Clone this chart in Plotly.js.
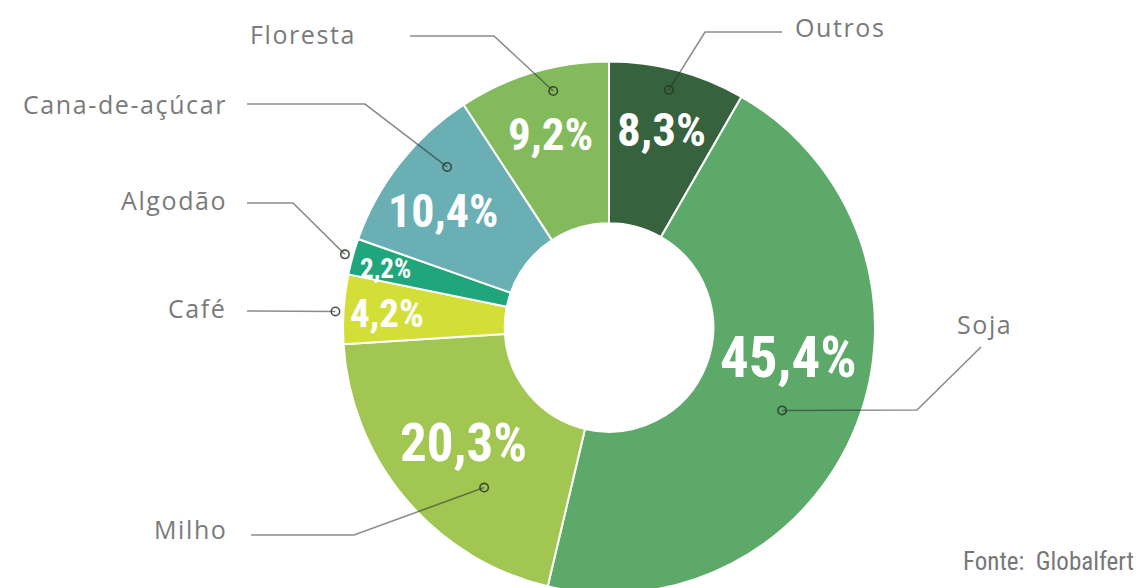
<!DOCTYPE html>
<html>
<head>
<meta charset="utf-8">
<script src="https://cdn.plot.ly/plotly-3.0.1.min.js"></script>
<style>
html,body{margin:0;padding:0;overflow:hidden;background:#fff;width:1140px;height:588px;}
#chart{width:1140px;height:600px;}
</style>
</head>
<body>
<div id="chart"></div>
<script>
// ---- data ----
const categories = ["Outros", "Soja", "Milho", "Café", "Algodão", "Cana-de-açúcar", "Floresta"];
const shares = [8.3, 45.4, 20.3, 4.2, 2.2, 10.4, 9.2];
const sliceColors = ["#36623e", "#5ca96a", "#a1c651", "#d3de36", "#1fa67b", "#6aafb3", "#83bb5c"];
const source = "Fonte:  Globalfert";

// ---- layout / style config (pixels) ----
const W = 1140, H = 600;
const CX = 609, CY = 327.5, R = 266, HOLE = 0.392;
// percentage text: radius, angle offset (deg), font size
const pctStyle = {
  "Outros": {r: 205, dA: 0, size: 47},
  "Soja": {r: 182, dA: -12, size: 57},
  "Milho": {r: 186, dA: 1.6, size: 53},
  "Café": {r: 222, dA: -0.6, size: 39},
  "Algodão": {r: 231, dA: -0.7, size: 27},
  "Cana-de-açúcar": {r: 203, dA: -3, size: 46},
  "Floresta": {r: 202, dA: -0.4, size: 45}
};
// leader lines: dot radius, dot angle offset, polyline points, label anchor
const leader = {
  "Outros": {r: 245, dA: -0.8, pts: [[782, 32], [705, 32]], lx: 793, ly: 27, side: "left"},
  "Soja": {r: 192, dA: 4, pts: [[981, 347], [917, 410]], lx: 955, ly: 324, side: "left"},
  "Milho": {r: 203, dA: -11.9, pts: [[251, 535], [354, 535]], lx: 229, ly: 529, side: "right"},
  "Café": {r: 274, dA: -0.6, pts: [[247, 311]], lx: 229, ly: 308, side: "right"},
  "Algodão": {r: 274, dA: 0, pts: [[247, 203], [293, 203]], lx: 229, ly: 200, side: "right"},
  "Cana-de-açúcar": {r: 228, dA: 6.6, pts: [[247, 104], [365, 104]], lx: 229, ly: 104, side: "right"},
  "Floresta": {r: 243, dA: 3.3, pts: [[410, 36], [494, 36]], lx: 358, ly: 34, side: "right"}
};

const px = x => x / W;
const py = y => 1 - y / H;
const total = shares.reduce((a, b) => a + b, 0);
const mids = [];
let acc = 0;
shares.forEach(v => { mids.push((acc + v / 2) / total * 360); acc += v; });
const polar = (r, deg) => {
  const t = deg * Math.PI / 180;
  return [CX + r * Math.sin(t), CY - r * Math.cos(t)];
};

const pctText = shares.map(v => v.toFixed(1).replace('.', ',') + '%');

const trace = {
  type: 'pie',
  labels: categories,
  values: shares,
  sort: false,
  direction: 'clockwise',
  rotation: 0,
  hole: HOLE,
  marker: {colors: sliceColors, line: {color: '#ffffff', width: 2}},
  textinfo: 'none',
  hoverinfo: 'label+percent',
  showlegend: false,
  domain: {x: [px(CX - R), px(CX + R)], y: [py(CY + R), py(CY - R)]}
};

const annotations = [];
const shapes = [];
const lineColor = 'rgba(45,45,45,0.55)';
categories.forEach((c, i) => {
  const ps = pctStyle[c];
  const p = polar(ps.r, mids[i] + ps.dA);
  annotations.push({
    x: px(p[0]), y: py(p[1]), xref: 'paper', yref: 'paper',
    text: '<b>' + pctText[i] + '</b>', showarrow: false,
    xanchor: 'center', yanchor: 'middle',
    font: {family: '"Liberation Sans Narrow", "Roboto Condensed", "DejaVu Sans Condensed", "Arial Narrow", sans-serif', size: ps.size, color: '#ffffff'}
  });
  const L = leader[c];
  const d = polar(L.r, mids[i] + L.dA);
  const pts = L.pts.concat([d]);
  let path = 'M ' + px(pts[0][0]) + ' ' + py(pts[0][1]);
  for (let k = 1; k < pts.length; k++) path += ' L ' + px(pts[k][0]) + ' ' + py(pts[k][1]);
  shapes.push({type: 'path', xref: 'paper', yref: 'paper', path: path, line: {color: lineColor, width: 1.6}});
  const rr = 4.2;
  shapes.push({type: 'circle', xref: 'paper', yref: 'paper',
    x0: px(d[0] - rr), x1: px(d[0] + rr), y0: py(d[1] + rr), y1: py(d[1] - rr),
    line: {color: 'rgba(40,55,40,0.85)', width: 1.6}, fillcolor: 'rgba(0,0,0,0)'});
  annotations.push({
    x: px(L.lx), y: py(L.ly), xref: 'paper', yref: 'paper',
    text: '<span style="letter-spacing:1.6px">' + c + '</span>', showarrow: false, xanchor: L.side, yanchor: 'middle',
    font: {family: '"Open Sans", "Noto Sans", sans-serif', size: 25, color: '#7a7a7a'}
  });
});
annotations.push({
  x: px(1136), y: py(561), xref: 'paper', yref: 'paper', text: source, showarrow: false,
  xanchor: 'right', yanchor: 'middle',
  font: {family: '"Liberation Sans Narrow", "Roboto Condensed", "DejaVu Sans Condensed", sans-serif', size: 25, color: '#777777'}
});

const layout = {
  width: W, height: H,
  margin: {l: 0, r: 0, t: 0, b: 0},
  paper_bgcolor: '#ffffff',
  showlegend: false,
  annotations: annotations,
  shapes: shapes
};
Plotly.newPlot('chart', [trace], layout, {displayModeBar: false, staticPlot: true});
</script>
</body>
</html>
